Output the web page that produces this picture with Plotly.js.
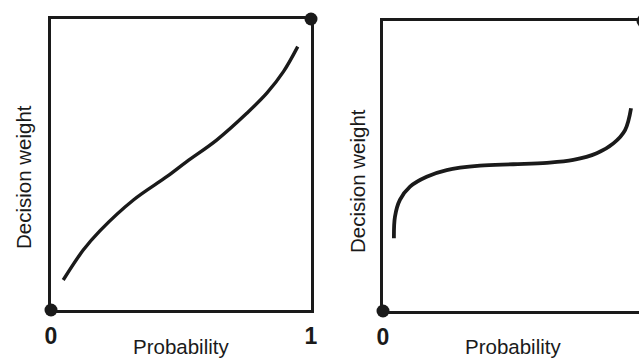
<!DOCTYPE html>
<html>
<head>
<meta charset="utf-8">
<script src="https://cdn.plot.ly/plotly-3.0.1.min.js"></script>
<style>
html, body { margin:0; padding:0; width:639px; height:358px; overflow:hidden; background:#fff; }
#chart { width:645px; height:358px; }
</style>
</head>
<body>
<div id="chart"></div>
<script>
// Left panel: inverse-S decision weight curve
const leftProb   = [0.047, 0.124, 0.188, 0.317, 0.445, 0.522, 0.637, 0.753, 0.830, 0.894, 0.949];
const leftWeight = [0.103, 0.206, 0.272, 0.378, 0.458, 0.510, 0.584, 0.676, 0.745, 0.819, 0.905];
// Right panel: flat decision weight curve
const rightProb   = [0.042, 0.046, 0.065, 0.104, 0.168, 0.245, 0.373, 0.501, 0.630, 0.732, 0.822, 0.886, 0.931, 0.954];
const rightWeight = [0.251, 0.325, 0.383, 0.429, 0.463, 0.486, 0.501, 0.506, 0.511, 0.521, 0.544, 0.578, 0.624, 0.699];
// Endpoints
const endProb = [0, 1];
const endWeight = [0, 1];
const tickVals = [0, 1];
const tickText = ["0", "1"];
const xTitle = "Probability";
const yTitle = "Decision weight";

const ink = "#1a1a1a";
const W = 645, H = 358;

const traces = [
  {x: leftProb, y: leftWeight, xaxis:'x', yaxis:'y', mode:'lines', line:{shape:'spline', color:ink, width:3.4}, hoverinfo:'skip'},
  {x: endProb, y: endWeight, xaxis:'x', yaxis:'y', mode:'markers', marker:{size:13, color:ink}, cliponaxis:false, hoverinfo:'skip'},
  {x: rightProb, y: rightWeight, xaxis:'x2', yaxis:'y2', mode:'lines', line:{shape:'spline', color:ink, width:3.8}, hoverinfo:'skip'},
  {x: endProb, y: endWeight, xaxis:'x2', yaxis:'y2', mode:'markers', marker:{size:13, color:ink}, cliponaxis:false, hoverinfo:'skip'}
];

function xax(d0, d1, anchor) {
  return {domain:[d0/W, d1/W], range:[0,1], anchor:anchor, showgrid:false, zeroline:false,
    showline:true, linecolor:ink, linewidth:3.2, mirror:true,
    tickvals:tickVals, ticktext:tickText, ticks:'', ticklabelstandoff:3,
    tickfont:{family:'Liberation Sans, Arial, sans-serif', size:23, color:ink, weight:'bold'}, fixedrange:true};
}
function yax(top, bottom, anchor, mirror) {
  return {domain:[1-bottom/H, 1-top/H], range:[0,1], anchor:anchor, showgrid:false, zeroline:false,
    showline:true, linecolor:ink, linewidth:3.2, mirror:mirror, showticklabels:false, ticks:'', fixedrange:true};
}

const titleFont = {family:'Liberation Sans, Arial, sans-serif', size:20.5, color:ink};
const annotations = [
  {xref:'x domain', yref:'paper', x:0.5, y:1-346/H, text:xTitle, showarrow:false, font:titleFont, xanchor:'center', yanchor:'middle'},
  {xref:'x2 domain', yref:'paper', x:0.5, y:1-346/H, text:xTitle, showarrow:false, font:titleFont, xanchor:'center', yanchor:'middle'},
  {xref:'paper', yref:'paper', x:24/W, y:1-177/H, text:yTitle, textangle:-90, showarrow:false, font:titleFont, xanchor:'center', yanchor:'middle'},
  {xref:'paper', yref:'paper', x:357/W, y:1-181/H, text:yTitle, textangle:-90, showarrow:false, font:titleFont, xanchor:'center', yanchor:'middle'}
];

const layout = {
  width:W, height:H, margin:{l:0, r:0, t:0, b:0},
  paper_bgcolor:'#fff', plot_bgcolor:'#fff', showlegend:false,
  xaxis: xax(51, 311, 'y'),
  yaxis: yax(19, 310, 'x', true),
  xaxis2: xax(383, 643, 'y2'),
  yaxis2: yax(21, 311, 'x2', true),
  annotations: annotations
};

Plotly.newPlot('chart', traces, layout, {staticPlot:true, displayModeBar:false});
</script>
</body>
</html>
